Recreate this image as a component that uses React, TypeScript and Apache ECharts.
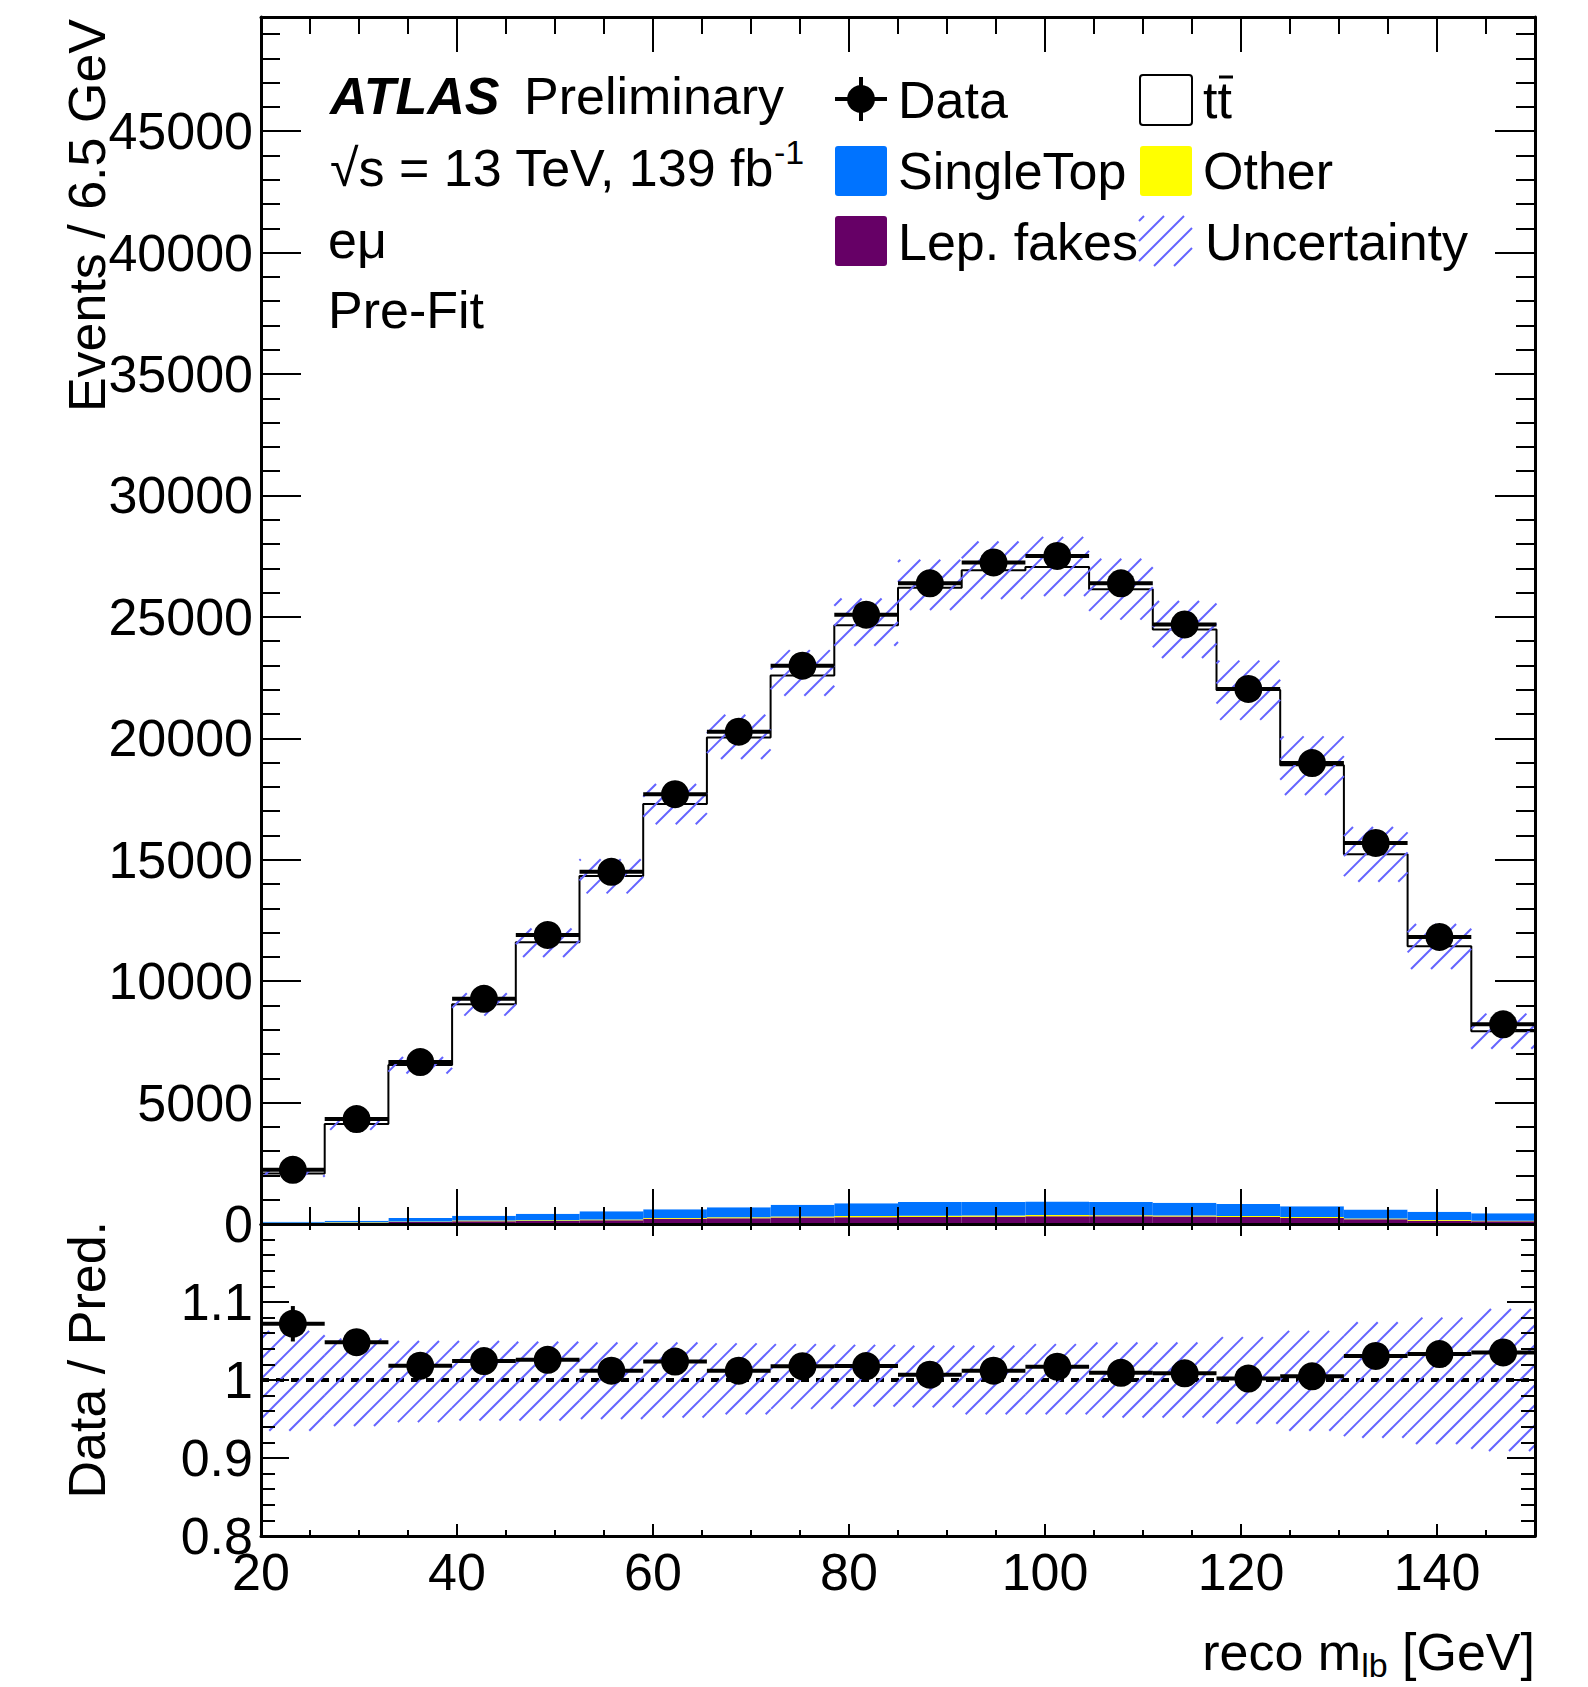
import React, { useEffect, useRef } from "react";
import * as echarts from "echarts";

// ---------------- data ----------------
const binEdges = [20, 26.5, 33, 39.5, 46, 52.5, 59, 65.5, 72, 78.5, 85, 91.5, 98, 104.5, 111, 117.5, 124, 130.5, 137, 143.5, 150];
const dataEvents = [2230, 4320, 6670, 9270, 11900, 14500, 17700, 20270, 22990, 25090, 26380, 27240, 27510, 26380, 24690, 22030, 18980, 15690, 11820, 8220];
const lepFakes = [40, 55, 80, 110, 123, 150, 215, 235, 265, 280, 290, 300, 320, 320, 310, 285, 250, 200, 135, 110];
const otherBkg = [10, 15, 25, 30, 30, 35, 35, 40, 45, 45, 45, 50, 50, 45, 45, 40, 35, 30, 25, 20];
const singleTop = [46, 67, 142, 203, 272, 335, 353, 410, 485, 525, 570, 555, 560, 540, 525, 495, 445, 370, 345, 310];
const ttbar = [1984, 3983, 6303, 8707, 11175, 13810, 16687, 19345, 21795, 23800, 25295, 26015, 26120, 25235, 23600, 21170, 18160, 14620, 10935, 7500];
// relative systematic uncertainty of the prediction (up / down)
const uncUp = [0.063, 0.053, 0.05, 0.05, 0.049, 0.048, 0.048, 0.047, 0.046, 0.045, 0.044, 0.044, 0.046, 0.048, 0.048, 0.055, 0.063, 0.074, 0.08, 0.091];
const uncDown = [0.065, 0.059, 0.054, 0.052, 0.052, 0.05, 0.048, 0.044, 0.037, 0.034, 0.035, 0.044, 0.044, 0.048, 0.048, 0.056, 0.065, 0.074, 0.082, 0.091];

// axis ranges / ticks
const xMin = 20, xMax = 150, xMajor = 20, xMinor = 5;
const yMainMin = 0, yMainMax = 49700, yMainMajor = 5000, yMainMinor = 1000;
const yRatioMin = 0.8, yRatioMax = 1.2, yRatioMajor = 0.1, yRatioMinor = 0.02;

const FONT = "'Liberation Sans', Arial, Helvetica, sans-serif";
const HATCH = "#6464ff";
const C_SINGLETOP = "#0073ff";
const C_OTHER = "#ffff00";
const C_FAKES = "#660066";

function hatchLines(x0: number, y0: number, x1: number, y1: number, spacing: number, z?: number) {
  const out: any[] = [];
  const cMin = x0 + y0, cMax = x1 + y1;
  for (let k = Math.ceil(cMin / spacing); k * spacing <= cMax; k++) {
    const c = k * spacing;
    const xs = Math.max(x0, c - y1);
    const xe = Math.min(x1, c - y0);
    if (xe > xs + 0.5) {
      const el: any = {
        type: "line",
        shape: { x1: xs, y1: c - xs, x2: xe, y2: c - xe },
        style: { stroke: HATCH, lineWidth: 2 },
      };
      if (z !== undefined) el.z = z;
      out.push(el);
    }
  }
  return out;
}

const rectRender = (color: string) => (params: any, api: any) => {
  const lo = api.value(0), hi = api.value(1), b = api.value(2), t = api.value(3);
  const p0 = api.coord([lo, t]);
  const p1 = api.coord([hi, b]);
  return {
    type: "rect",
    shape: { x: p0[0], y: p0[1], width: p1[0] - p0[0], height: p1[1] - p0[1] },
    style: { fill: color, lineWidth: 0 },
  };
};

const hatchRender = (params: any, api: any) => {
  const lo = api.value(0), hi = api.value(1), b = api.value(2), t = api.value(3);
  const p0 = api.coord([lo, t]);
  const p1 = api.coord([hi, b]);
  return { type: "group", children: hatchLines(p0[0], p0[1], p1[0], p1[1], 20) };
};

const pointRender = (params: any, api: any) => {
  const lo = api.value(0), hi = api.value(1), xc = api.value(2), v = api.value(3), e = api.value(4);
  const c = api.coord([xc, v]);
  const l = api.coord([lo, v]);
  const r = api.coord([hi, v]);
  const up = api.coord([xc, v + e]);
  const dn = api.coord([xc, v - e]);
  return {
    type: "group",
    children: [
      { type: "line", shape: { x1: l[0], y1: l[1], x2: r[0], y2: r[1] }, style: { stroke: "#000", lineWidth: 4 } },
      { type: "line", shape: { x1: dn[0], y1: dn[1], x2: up[0], y2: up[1] }, style: { stroke: "#000", lineWidth: 4 } },
      { type: "circle", shape: { cx: c[0], cy: c[1], r: 14 }, style: { fill: "#000" } },
    ],
  };
};

function axis(
  dim: "x" | "y",
  gridIndex: number,
  position: string,
  min: number,
  max: number,
  interval: number,
  len: number,
  labels: boolean,
  showLine: boolean
) {
  return {
    type: "value",
    gridIndex,
    position,
    min,
    max,
    interval,
    z: 10,
    axisLine: { show: showLine, onZero: false, lineStyle: { color: "#000", width: 3 } },
    axisTick: { show: true, inside: true, length: len, lineStyle: { color: "#000", width: 2 } },
    axisLabel: labels
      ? {
          show: true,
          fontSize: 52,
          fontFamily: FONT,
          color: "#000",
          margin: dim === "x" ? 10 : 8,
          showMaxLabel: false,
          formatter: (v: number) => String(Math.round(v * 1000) / 1000),
        }
      : { show: false },
    splitLine: { show: false },
    minorTick: { show: false },
    minorSplitLine: { show: false },
  };
}

export default function App() {
  const ref = useRef<HTMLDivElement>(null);

  useEffect(() => {
    document.body.style.margin = "0";
    if (!ref.current) return;
    const chart = echarts.init(ref.current, undefined, { renderer: "svg" });

    const n = dataEvents.length;
    const fakesRects: number[][] = [];
    const otherRects: number[][] = [];
    const stRects: number[][] = [];
    const ttRects: number[][] = [];
    const bandMain: number[][] = [];
    const bandRatio: number[][] = [];
    const ptsMain: number[][] = [];
    const ptsRatio: number[][] = [];
    const step: number[][] = [];
    for (let i = 0; i < n; i++) {
      const lo = binEdges[i], hi = binEdges[i + 1], xc = (lo + hi) / 2;
      const a = lepFakes[i];
      const b = a + otherBkg[i];
      const c = b + singleTop[i];
      const d = c + ttbar[i];
      fakesRects.push([lo, hi, 0, a]);
      otherRects.push([lo, hi, a, b]);
      stRects.push([lo, hi, b, c]);
      ttRects.push([lo, hi, c, d]);
      bandMain.push([lo, hi, d * (1 - uncDown[i]), d * (1 + uncUp[i])]);
      bandRatio.push([lo, hi, 1 - uncDown[i], 1 + uncUp[i]]);
      const err = Math.sqrt(dataEvents[i]);
      ptsMain.push([lo, hi, xc, dataEvents[i], err]);
      ptsRatio.push([lo, hi, xc, dataEvents[i] / d, err / d]);
      if (i === 0) step.push([lo, 0]);
      step.push([lo, d]);
      step.push([hi, d]);
      if (i === n - 1) step.push([hi, 0]);
    }

    // legend hatch
    const legendHatch = hatchLines(1139, 216, 1192, 266, 20, 20);

    const txt = (x: number, y: number, text: string, extra: any = {}, rotation = 0) => ({
      type: "text",
      x,
      y,
      rotation,
      z: 20,
      style: {
        text,
        fontSize: 52,
        fontFamily: FONT,
        fill: "#000",
        align: "left",
        verticalAlign: "middle",
        ...extra,
      },
    });

    const graphic: any[] = [
      txt(330, 96, "ATLAS", { fontWeight: "bold", fontStyle: "italic" }),
      txt(524, 96, "Preliminary"),
      txt(330, 168, "\u221As = 13 TeV, 139 fb"),
      txt(774, 152, "-1", { fontSize: 34 }),
      txt(328, 240, "e\u03BC"),
      txt(328, 310, "Pre-Fit"),
      // legend: Data
      { type: "line", z: 20, shape: { x1: 835, y1: 99, x2: 887, y2: 99 }, style: { stroke: "#000", lineWidth: 4 } },
      { type: "line", z: 20, shape: { x1: 861, y1: 77, x2: 861, y2: 121 }, style: { stroke: "#000", lineWidth: 4 } },
      { type: "circle", z: 20, shape: { cx: 861, cy: 99, r: 14 }, style: { fill: "#000" } },
      txt(898, 100, "Data"),
      { type: "rect", z: 20, shape: { x: 835, y: 146, width: 52, height: 50, r: 3 }, style: { fill: C_SINGLETOP } },
      txt(898, 171, "SingleTop"),
      { type: "rect", z: 20, shape: { x: 835, y: 216, width: 52, height: 50, r: 3 }, style: { fill: C_FAKES } },
      txt(898, 242, "Lep. fakes"),
      { type: "rect", z: 20, shape: { x: 1140, y: 75, width: 52, height: 50, r: 3 }, style: { fill: "#fff", stroke: "#000", lineWidth: 2 } },
      txt(1203, 100, "tt"),
      { type: "line", z: 20, shape: { x1: 1219, y1: 77, x2: 1233, y2: 77 }, style: { stroke: "#000", lineWidth: 3 } },
      { type: "rect", z: 20, shape: { x: 1140, y: 146, width: 52, height: 50, r: 3 }, style: { fill: C_OTHER } },
      txt(1203, 171, "Other"),
      ...legendHatch,
      txt(1205, 242, "Uncertainty"),
      // axis titles
      txt(87, 19, "Events / 6.5 GeV", { align: "right" }, Math.PI / 2),
      txt(87, 1221, "Data / Pred.", { align: "right" }, Math.PI / 2),
      {
        type: "text",
        x: 1535,
        y: 1652,
        z: 20,
        style: {
          text: "{n|reco m}{s|lb}{n| [GeV]}",
          align: "right",
          verticalAlign: "middle",
          fill: "#000",
          fontFamily: FONT,
          fontSize: 52,
          rich: {
            n: { fontSize: 52, fontFamily: FONT, lineHeight: 60, fill: "#000" },
            s: { fontSize: 34, fontFamily: FONT, lineHeight: 34, verticalAlign: "bottom", fill: "#000" },
          },
        },
      },
    ];

    const option: any = {
      animation: false,
      backgroundColor: "#fff",
      grid: [
        { left: 261, top: 17, width: 1274, height: 1207, containLabel: false },
        { left: 261, top: 1224, width: 1274, height: 312, containLabel: false },
      ],
      xAxis: [
        axis("x", 0, "bottom", xMin, xMax, xMajor, 35, false, true),
        axis("x", 0, "bottom", xMin, xMax, xMinor, 17, false, false),
        axis("x", 0, "top", xMin, xMax, xMajor, 35, false, true),
        axis("x", 0, "top", xMin, xMax, xMinor, 17, false, false),
        axis("x", 1, "bottom", xMin, xMax, xMajor, 12, true, true),
        axis("x", 1, "bottom", xMin, xMax, xMinor, 6, false, false),
        axis("x", 1, "top", xMin, xMax, xMajor, 12, false, true),
        axis("x", 1, "top", xMin, xMax, xMinor, 6, false, false),
      ],
      yAxis: [
        axis("y", 0, "left", yMainMin, yMainMax, yMainMajor, 40, true, true),
        axis("y", 0, "left", yMainMin, yMainMax, yMainMinor, 19, false, false),
        axis("y", 0, "right", yMainMin, yMainMax, yMainMajor, 40, false, true),
        axis("y", 0, "right", yMainMin, yMainMax, yMainMinor, 19, false, false),
        axis("y", 1, "left", yRatioMin, yRatioMax, yRatioMajor, 28, true, true),
        axis("y", 1, "left", yRatioMin, yRatioMax, yRatioMinor, 14, false, false),
        axis("y", 1, "right", yRatioMin, yRatioMax, yRatioMajor, 28, false, true),
        axis("y", 1, "right", yRatioMin, yRatioMax, yRatioMinor, 14, false, false),
      ],
      series: [
        { type: "custom", name: "Lep. fakes", xAxisIndex: 0, yAxisIndex: 0, z: 2, silent: true, renderItem: rectRender(C_FAKES), data: fakesRects },
        { type: "custom", name: "Other", xAxisIndex: 0, yAxisIndex: 0, z: 2, silent: true, renderItem: rectRender(C_OTHER), data: otherRects },
        { type: "custom", name: "SingleTop", xAxisIndex: 0, yAxisIndex: 0, z: 2, silent: true, renderItem: rectRender(C_SINGLETOP), data: stRects },
        { type: "custom", name: "ttbar", xAxisIndex: 0, yAxisIndex: 0, z: 2, silent: true, renderItem: rectRender("#ffffff"), data: ttRects },
        {
          type: "line",
          name: "ttbar outline",
          xAxisIndex: 0,
          yAxisIndex: 0,
          z: 3,
          silent: true,
          symbol: "none",
          lineStyle: { color: "#000", width: 2 },
          data: step,
        },
        { type: "custom", name: "Uncertainty", xAxisIndex: 0, yAxisIndex: 0, z: 4, silent: true, renderItem: hatchRender, data: bandMain },
        { type: "custom", name: "Data", xAxisIndex: 0, yAxisIndex: 0, z: 5, silent: true, renderItem: pointRender, data: ptsMain },
        // ratio panel
        { type: "custom", name: "Uncertainty ratio", xAxisIndex: 4, yAxisIndex: 4, z: 4, silent: true, renderItem: hatchRender, data: bandRatio },
        {
          type: "line",
          name: "unity",
          xAxisIndex: 4,
          yAxisIndex: 4,
          z: 3,
          silent: true,
          symbol: "none",
          lineStyle: { color: "#000", width: 4, type: [8, 7] },
          data: [
            [xMin, 1],
            [xMax, 1],
          ],
        },
        { type: "custom", name: "Data ratio", xAxisIndex: 4, yAxisIndex: 4, z: 5, silent: true, renderItem: pointRender, data: ptsRatio },
      ],
      graphic,
    };

    chart.setOption(option);
    return () => {
      chart.dispose();
    };
  }, []);

  return <div ref={ref} style={{ width: 1588, height: 1687 }} />;
}
